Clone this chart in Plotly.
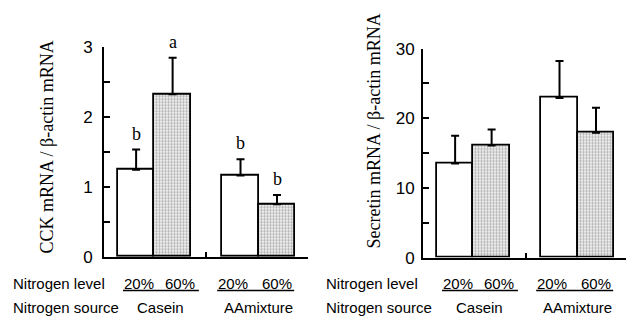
import plotly.graph_objects as go

# ---- data ----
levels = ["20%", "60%", "20%", "60%"]
sources = ["Casein", "AAmixture"]
cck_mean = [1.24, 2.32, 1.16, 0.75]
cck_err = [0.29, 0.52, 0.23, 0.13]
cck_letters = ["b", "a", "b", "b"]
sec_mean = [13.5, 16.1, 22.9, 17.9]
sec_err = [4.0, 2.3, 5.3, 3.6]
cck_ticks = [0, 1, 2, 3]
sec_ticks = [0, 10, 20, 30]

# ---- layout helpers (positions) ----
group_centers = [1.38, 4.24]
bar_x = [group_centers[0] - 0.5, group_centers[0] + 0.5,
         group_centers[1] - 0.5, group_centers[1] + 0.5]
label_x = [0.97, 2.09, 3.53, 4.73]
source_x = [1.55, 4.22]
underline = [(0.52, 2.60), (3.10, 5.21)]
gap_tick = 2.80

W, H = 626, 326
fills = ["white", "#b0b0b0", "white", "#b0b0b0"]
pattern = dict(shape=["", ".", "", "."], fgcolor="#4a4a4a", bgcolor="#cdcdcd",
               size=3, solidity=0.5, fillmode="replace")

fig = go.Figure()


def add_bars(mean, err, xa, ya):
    fig.add_trace(go.Bar(
        x=bar_x, y=mean, width=1.0, xaxis=xa, yaxis=ya,
        marker=dict(color=fills, line=dict(color="black", width=1.8), pattern=pattern),
        error_y=dict(type="data", symmetric=False, array=err,
                     arrayminus=[0] * len(err), color="black", thickness=2, width=4),
        showlegend=False, hoverinfo="skip"))


add_bars(cck_mean, cck_err, "x", "y")
add_bars(sec_mean, sec_err, "x2", "y2")

ydom1 = [1 - 263 / H, 1 - 40 / H]
ydom2 = [1 - 264 / H, 1 - 42 / H]
xdom1 = [104 / W, 308 / W]
xdom2 = [423 / W, 1.0]

line_common = dict(showline=True, linecolor="black", linewidth=2, showgrid=False,
                   zeroline=False, ticks="inside", tickcolor="black", tickwidth=1.5)
tickfont = dict(family="Liberation Sans, Arial", size=17, color="black")

fig.update_layout(
    width=W, height=H, margin=dict(l=0, r=0, t=0, b=0),
    paper_bgcolor="white", plot_bgcolor="white", bargap=0,
    xaxis=dict(domain=xdom1, range=[0, 204 / 36.5], tickvals=[gap_tick, 204 / 36.5 - 0.02],
               showticklabels=False, anchor="y", ticklen=5, **line_common),
    yaxis=dict(domain=ydom1, range=[0, 3], tickvals=cck_ticks, tickfont=tickfont,
               ticklabelstandoff=6, anchor="x", ticklen=6,
               minor=dict(ticks="inside", dtick=0.5, ticklen=6, tickcolor="black", tickwidth=1.5),
               **line_common),
    xaxis2=dict(domain=xdom2, range=[0, 203 / 36.5], tickvals=[gap_tick + 0.02],
                showticklabels=False, anchor="y2", ticklen=5, **line_common),
    yaxis2=dict(domain=ydom2, range=[0, 30], tickvals=sec_ticks, tickfont=tickfont,
                ticklabelstandoff=3, anchor="x2", ticklen=6,
                minor=dict(ticks="inside", dtick=5, ticklen=6, tickcolor="black", tickwidth=1.5),
                **line_common),
)

ann = []
serif = dict(family="Liberation Serif, Times New Roman", size=18, color="black")
sans = dict(family="Liberation Sans, Arial", size=15, color="black")

# y titles
ann.append(dict(text="CCK mRNA / β-actin mRNA", xref="paper", yref="paper",
                x=47 / W, y=1 - 147 / H, textangle=-90, showarrow=False, font=serif,
                xanchor="center", yanchor="middle"))
ann.append(dict(text="Secretin mRNA / β-actin mRNA", xref="paper", yref="paper",
                x=374 / W, y=1 - 130 / H, textangle=-90, showarrow=False, font=serif,
                xanchor="center", yanchor="middle"))

# significance letters
for xv, m, e, t in zip(bar_x, cck_mean, cck_err, cck_letters):
    ann.append(dict(text=t, x=xv, y=m + e, xref="x", yref="y", yshift=16,
                    showarrow=False, font=dict(family="Liberation Serif, Times New Roman",
                                               size=18, color="black"),
                    yanchor="middle"))

shapes = []
for xr, left_px in (("x", 11), ("x2", 324)):
    ann.append(dict(text="Nitrogen level", xref="paper", yref="paper", x=left_px / W,
                    y=1 - 291 / H, xanchor="left", yanchor="middle", showarrow=False, font=sans))
    ann.append(dict(text="Nitrogen source", xref="paper", yref="paper", x=left_px / W,
                    y=1 - 317 / H, xanchor="left", yanchor="middle", showarrow=False, font=sans))
    for lx, lv in zip(label_x, levels):
        ann.append(dict(text=lv, xref=xr, yref="paper", x=lx, y=1 - 291 / H,
                        xanchor="center", yanchor="middle", showarrow=False, font=sans))
    for sx, sv in zip(source_x, sources):
        ann.append(dict(text=sv, xref=xr, yref="paper", x=sx, y=1 - 317 / H,
                        xanchor="center", yanchor="middle", showarrow=False, font=sans))
    for a, b in underline:
        shapes.append(dict(type="line", xref=xr, yref="paper", x0=a, x1=b,
                           y0=1 - 299 / H, y1=1 - 299 / H, line=dict(color="black", width=1.5)))

fig.update_layout(annotations=ann, shapes=shapes)
fig.write_html("out.html")
